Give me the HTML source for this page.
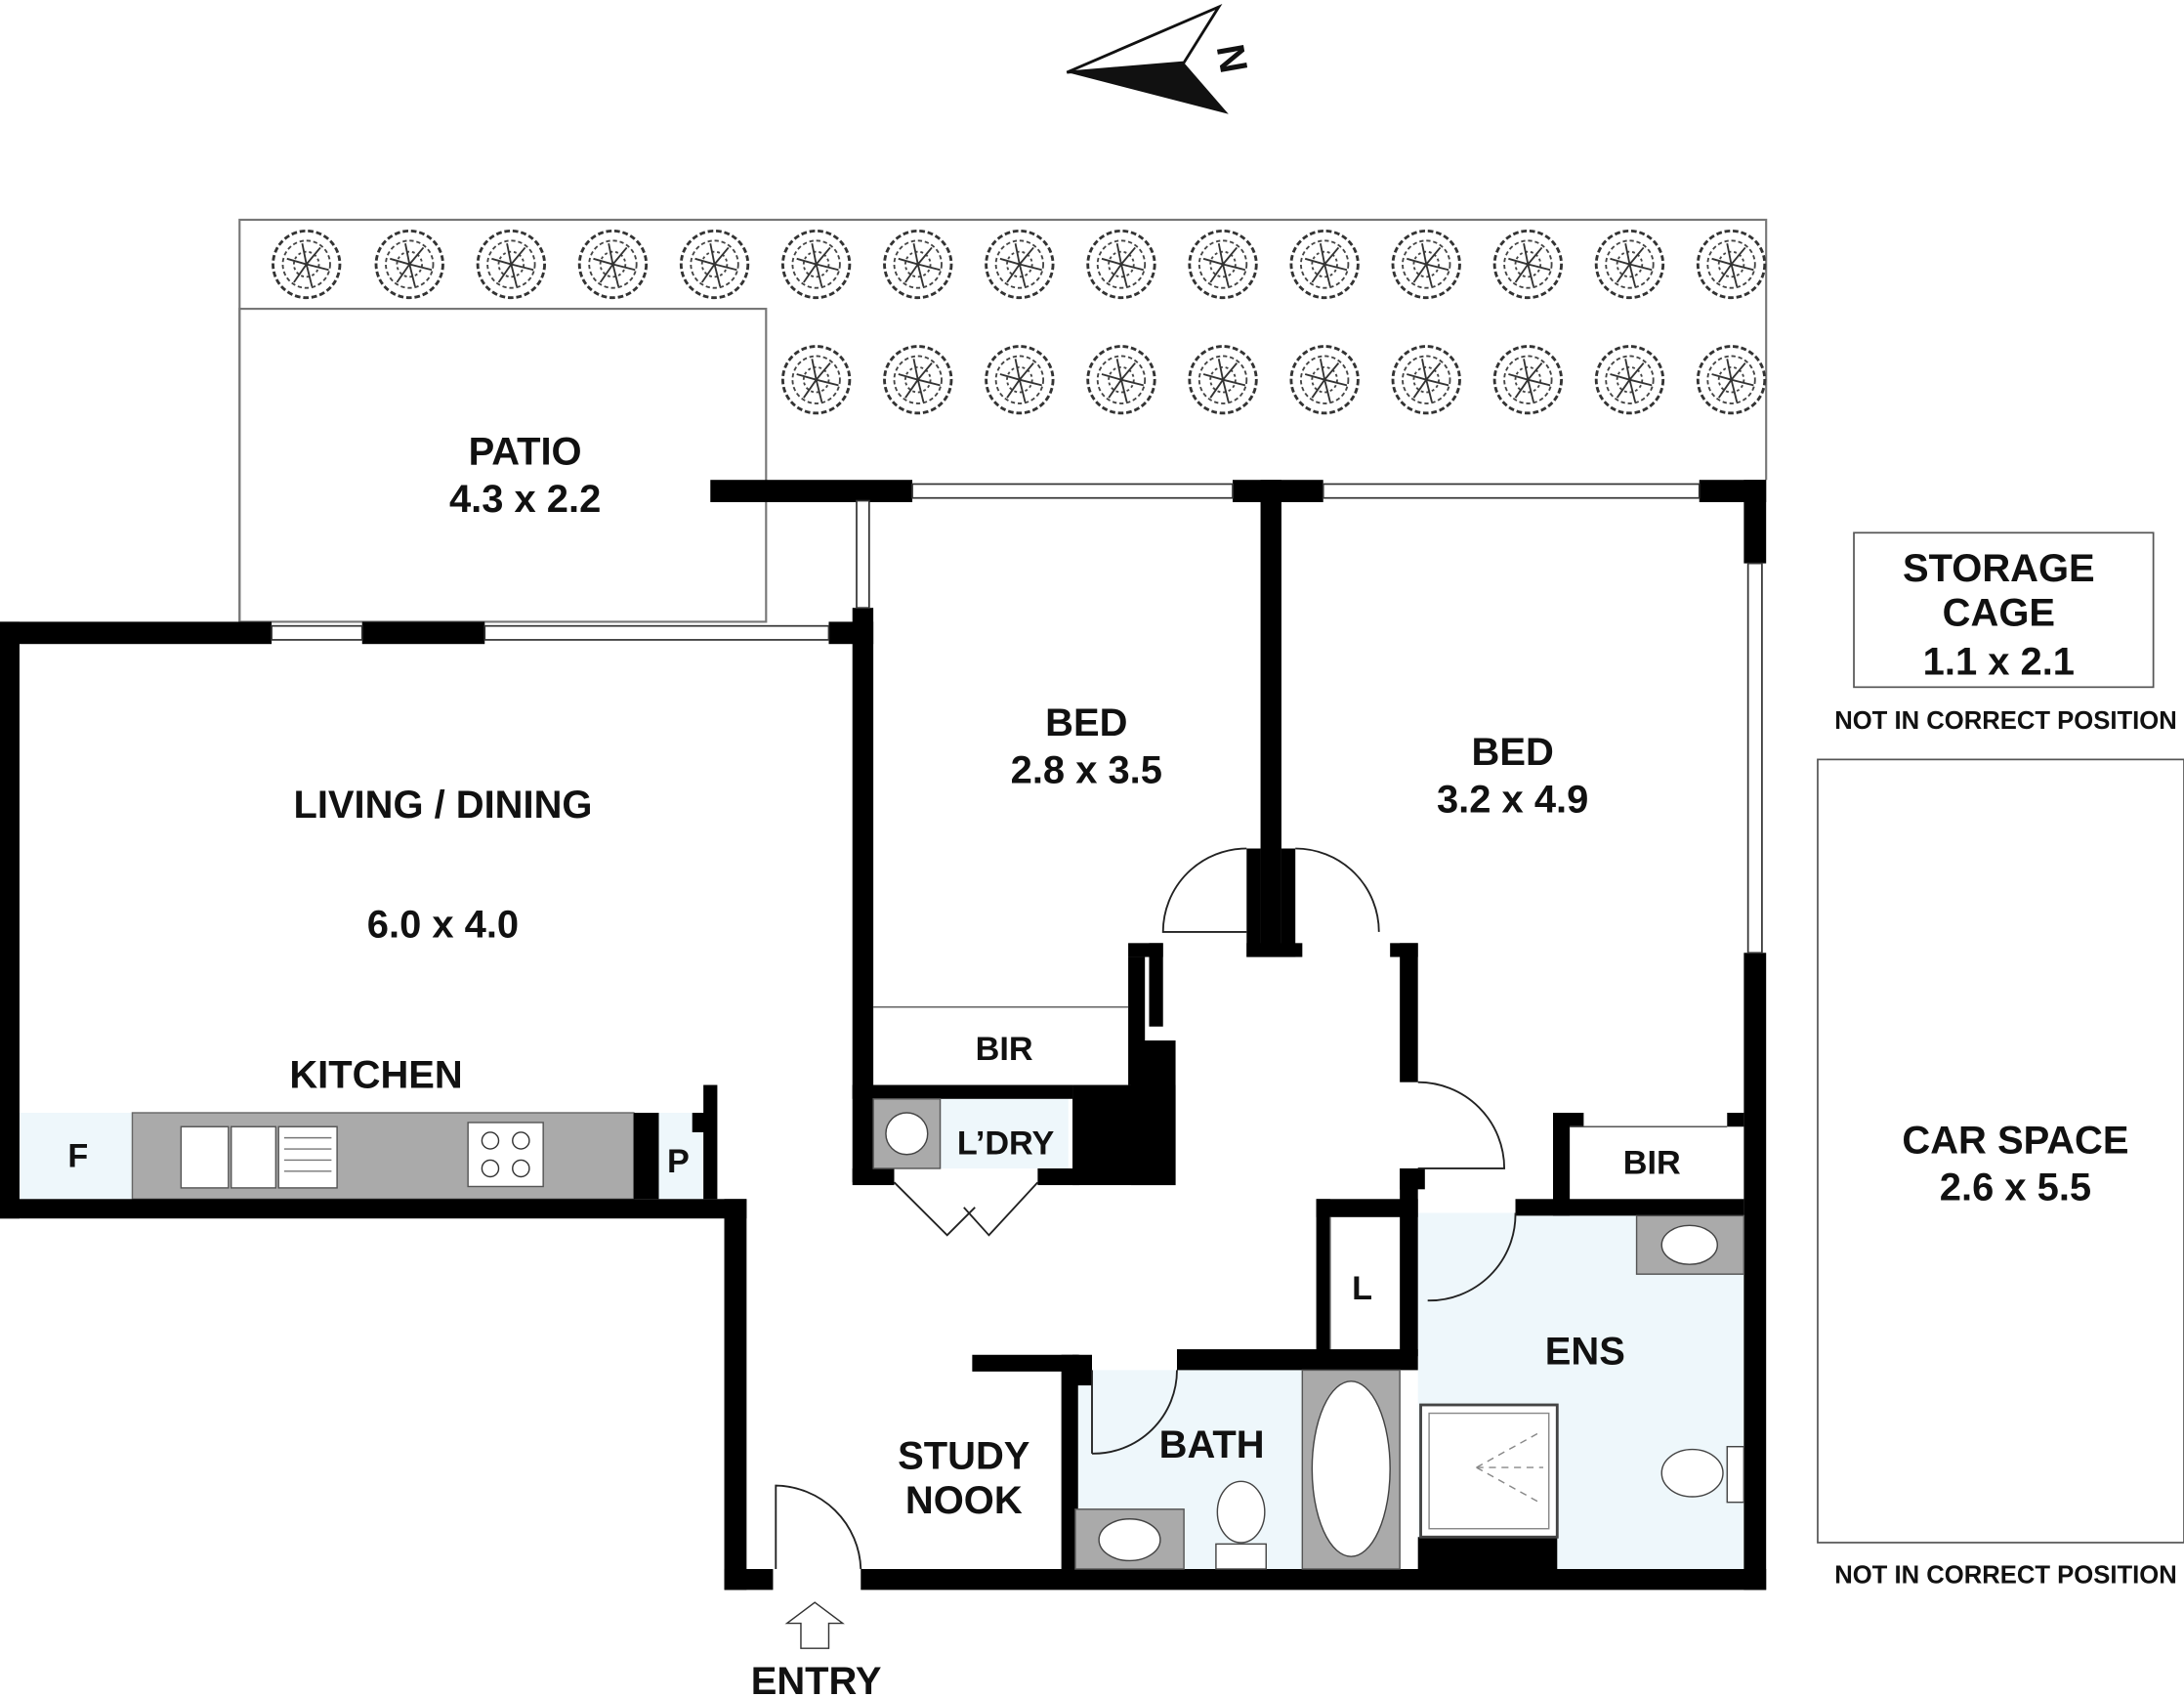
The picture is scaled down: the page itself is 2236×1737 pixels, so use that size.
<!DOCTYPE html>
<html><head><meta charset="utf-8"><style>
html,body{margin:0;padding:0;background:#fff;}
svg{display:block;}
text{font-family:"Liberation Sans",Arial,sans-serif;font-weight:bold;fill:#111;text-anchor:middle;}
</style></head><body>
<svg width="2236" height="1737" viewBox="0 0 1568 1220" preserveAspectRatio="none" xmlns="http://www.w3.org/2000/svg">
<defs>
<g id="tree">
<circle r="24" fill="#fff" stroke="#333" stroke-width="2" stroke-dasharray="4 2"/>
<circle r="17" fill="none" stroke="#444" stroke-width="1.3" stroke-dasharray="3 2"/>
<circle r="9" fill="none" stroke="#444" stroke-width="1.3" stroke-dasharray="2 2"/>
<path d="M-14 -4 L0 0 L10 -12 M0 0 L4 16 M0 0 L-9 13 M0 0 L16 4 M0 0 L-3 -15" stroke="#333" stroke-width="1.3" fill="none"/>
</g>
</defs>
<polygon points="766,52 875,5 850,45" fill="#fff" stroke="#111" stroke-width="2"/>
<polygon points="766,52 850,45 882,82" fill="#111"/>
<text x="885" y="52" font-size="28" transform="rotate(80 885 42)">N</text>

<polyline points="172,447 172,158 1268,158 1268,345" fill="none" stroke="#777" stroke-width="1.5"/>
<rect x="172" y="222" width="378" height="225" fill="none" stroke="#777" stroke-width="1.5"/>
<g>
<use href="#tree" x="220" y="190"/><use href="#tree" x="294" y="190"/><use href="#tree" x="367" y="190"/><use href="#tree" x="440" y="190"/><use href="#tree" x="513" y="190"/><use href="#tree" x="586" y="190"/><use href="#tree" x="659" y="190"/><use href="#tree" x="732" y="190"/><use href="#tree" x="805" y="190"/><use href="#tree" x="878" y="190"/><use href="#tree" x="951" y="190"/><use href="#tree" x="1024" y="190"/><use href="#tree" x="1097" y="190"/><use href="#tree" x="1170" y="190"/><use href="#tree" x="1243" y="190"/>
<use href="#tree" x="586" y="273"/><use href="#tree" x="659" y="273"/><use href="#tree" x="732" y="273"/><use href="#tree" x="805" y="273"/><use href="#tree" x="878" y="273"/><use href="#tree" x="951" y="273"/><use href="#tree" x="1024" y="273"/><use href="#tree" x="1097" y="273"/><use href="#tree" x="1170" y="273"/><use href="#tree" x="1243" y="273"/>
</g>

<rect x="1018" y="872" width="234" height="258" fill="#eef7fb"/>
<rect x="770" y="985" width="165" height="143" fill="#eef7fb"/>
<rect x="627" y="790" width="140" height="50" fill="#eef7fb"/>
<rect x="14" y="800" width="81" height="62" fill="#eef7fb"/>
<rect x="462" y="800" width="48" height="62" fill="#eef7fb"/>

<rect x="95" y="800" width="360" height="62" fill="#aaa" stroke="#666"/>
<rect x="130" y="810" width="34" height="44" fill="#fff" stroke="#555"/>
<rect x="166" y="810" width="32" height="44" fill="#fff" stroke="#555"/>
<rect x="200" y="810" width="42" height="44" fill="#fff" stroke="#555"/>
<g stroke="#777"><line x1="204" y1="818" x2="238" y2="818"/><line x1="204" y1="826" x2="238" y2="826"/><line x1="204" y1="834" x2="238" y2="834"/><line x1="204" y1="842" x2="238" y2="842"/></g>
<rect x="336" y="807" width="54" height="46" fill="#fff" stroke="#555"/>
<circle cx="352" cy="820" r="6" fill="none" stroke="#333"/><circle cx="374" cy="820" r="6" fill="none" stroke="#333"/>
<circle cx="352" cy="840" r="6" fill="none" stroke="#333"/><circle cx="374" cy="840" r="6" fill="none" stroke="#333"/>

<g fill="#000">
<rect x="0" y="447" width="195" height="16"/>
<rect x="260" y="447" width="88" height="16"/>
<rect x="595" y="447" width="32" height="16"/>
<rect x="0" y="447" width="14" height="429"/>
<rect x="0" y="862" width="536" height="14"/>
<rect x="455" y="800" width="18" height="62"/>
<rect x="497" y="800" width="10" height="14"/>
<rect x="505" y="780" width="10" height="82"/>
<rect x="520" y="862" width="16" height="281"/>
<rect x="520" y="1128" width="35" height="15"/>
<rect x="618" y="1128" width="650" height="15"/>
<rect x="1252" y="345" width="16" height="60"/>
<rect x="1252" y="685" width="16" height="458"/>
<rect x="510" y="345" width="145" height="16"/>
<rect x="885" y="345" width="65" height="16"/>
<rect x="1220" y="345" width="48" height="16"/>
<rect x="612" y="437" width="15" height="413"/>
<rect x="905" y="345" width="15" height="343"/>
<rect x="895" y="610" width="10" height="78"/>
<rect x="920" y="610" width="10" height="78"/>
<rect x="895" y="678" width="40" height="10"/>
<rect x="810" y="678" width="25" height="10"/>
<rect x="825" y="678" width="10" height="60"/>
<rect x="810" y="688" width="12" height="92"/>
<rect x="812" y="748" width="32" height="104"/>
<rect x="770" y="780" width="74" height="72"/>
<rect x="612" y="780" width="158" height="10"/>
<rect x="612" y="840" width="30" height="12"/>
<rect x="745" y="840" width="30" height="12"/>
<rect x="998" y="678" width="20" height="10"/>
<rect x="1005" y="678" width="13" height="100"/>
<rect x="1005" y="840" width="18" height="15"/>
<rect x="1005" y="840" width="13" height="135"/>
<rect x="945" y="862" width="73" height="13"/>
<rect x="945" y="862" width="10" height="115"/>
<rect x="1088" y="862" width="164" height="12"/>
<rect x="1115" y="800" width="12" height="74"/>
<rect x="1115" y="800" width="22" height="10"/>
<rect x="1240" y="800" width="12" height="10"/>
<rect x="845" y="970" width="173" height="15"/>
<rect x="698" y="974" width="77" height="12"/>
<rect x="762" y="974" width="12" height="154"/>
<rect x="770" y="974" width="14" height="22"/>
<rect x="1018" y="1105" width="100" height="25"/>
</g>
<g fill="#fff" stroke="#333" stroke-width="1.2">
<rect x="195" y="450" width="65" height="10"/>
<rect x="348" y="450" width="247" height="10"/>
<rect x="655" y="348" width="230" height="10"/>
<rect x="950" y="348" width="270" height="10"/>
<rect x="615" y="360" width="9" height="77"/>
<rect x="1255" y="405" width="10" height="280"/>
</g>
<line x1="627" y1="724" x2="810" y2="724" stroke="#555"/>
<line x1="1127" y1="810" x2="1240" y2="810" stroke="#555"/>
<line x1="955" y1="875" x2="955" y2="970" stroke="#555"/>

<g fill="none" stroke="#222" stroke-width="1.3">
<path d="M895 610 A60 60 0 0 0 835 670 L895 670"/>
<path d="M930 610 A60 60 0 0 1 990 670"/>
<path d="M1018 778 A62 62 0 0 1 1080 840 L1018 840"/>
<path d="M1025 935 A62 62 0 0 0 1088 872"/>
<path d="M784 1045 A60 60 0 0 0 845 985"/>
<line x1="784" y1="985" x2="784" y2="1045"/>
<path d="M618 1128 A62 62 0 0 0 557 1068 L557 1128"/>
<path d="M642 850 L680 888 L700 868 M745 850 L710 888 L692 868"/>
</g>

<rect x="627" y="790" width="48" height="50" fill="#aaa" stroke="#555"/>
<circle cx="651" cy="815" r="15" fill="#fff" stroke="#444"/>
<rect x="1175" y="874" width="77" height="42" fill="#aaa" stroke="#555"/>
<ellipse cx="1213" cy="895" rx="20" ry="14" fill="#fff" stroke="#444"/>
<rect x="772" y="1085" width="78" height="43" fill="#aaa" stroke="#555"/>
<ellipse cx="811" cy="1107" rx="22" ry="15" fill="#fff" stroke="#444"/>
<rect x="873" y="1110" width="36" height="18" fill="#fff" stroke="#444"/>
<ellipse cx="891" cy="1087" rx="17" ry="22" fill="#fff" stroke="#444"/>
<rect x="935" y="985" width="70" height="143" fill="#aaa" stroke="#555"/>
<ellipse cx="970" cy="1056" rx="28" ry="63" fill="#fff" stroke="#444"/>
<rect x="1240" y="1040" width="12" height="40" fill="#fff" stroke="#444"/>
<ellipse cx="1215" cy="1059" rx="22" ry="17" fill="#fff" stroke="#444"/>
<rect x="1020" y="1010" width="98" height="95" fill="#fff" stroke="#444" stroke-width="2"/>
<rect x="1026" y="1016" width="86" height="83" fill="none" stroke="#888"/>
<g stroke="#888" stroke-dasharray="5 4"><line x1="1060" y1="1055" x2="1105" y2="1030"/><line x1="1060" y1="1055" x2="1105" y2="1080"/><line x1="1060" y1="1055" x2="1108" y2="1055"/></g>

<rect x="1331" y="383" width="215" height="111" fill="#fff" stroke="#555" stroke-width="1.2"/>
<rect x="1305" y="546" width="263" height="563" fill="#fff" stroke="#555" stroke-width="1.2"/>

<polygon points="585,1152 605,1167 595,1167 595,1185 575,1185 575,1167 565,1167" fill="#fff" stroke="#333"/>

<g font-size="28">
<text x="377" y="334">PATIO</text><text x="377" y="368">4.3 x 2.2</text>
<text x="318" y="588">LIVING / DINING</text><text x="318" y="674">6.0 x 4.0</text>
<text x="270" y="782">KITCHEN</text>
<text x="780" y="529">BED</text><text x="780" y="563">2.8 x 3.5</text>
<text x="1086" y="550">BED</text><text x="1086" y="584">3.2 x 4.9</text>
<text x="1435" y="418">STORAGE</text><text x="1435" y="450">CAGE</text><text x="1435" y="485">1.1 x 2.1</text>
<text x="1447" y="829">CAR SPACE</text><text x="1447" y="863">2.6 x 5.5</text>
<text x="1138" y="981">ENS</text>
<text x="870" y="1048">BATH</text>
<text x="692" y="1056">STUDY</text><text x="692" y="1088">NOOK</text>
<text x="586" y="1218">ENTRY</text>
</g>
<g font-size="24">
<text x="721" y="762">BIR</text><text x="1186" y="844">BIR</text>
<text x="722" y="830">L’DRY</text>
<text x="56" y="839">F</text><text x="487" y="843">P</text>
<text x="978" y="934">L</text>
</g>
<g font-size="18">
<text x="1440" y="524">NOT IN CORRECT POSITION</text>
<text x="1440" y="1138">NOT IN CORRECT POSITION</text>
</g>
</svg>
</body></html>
